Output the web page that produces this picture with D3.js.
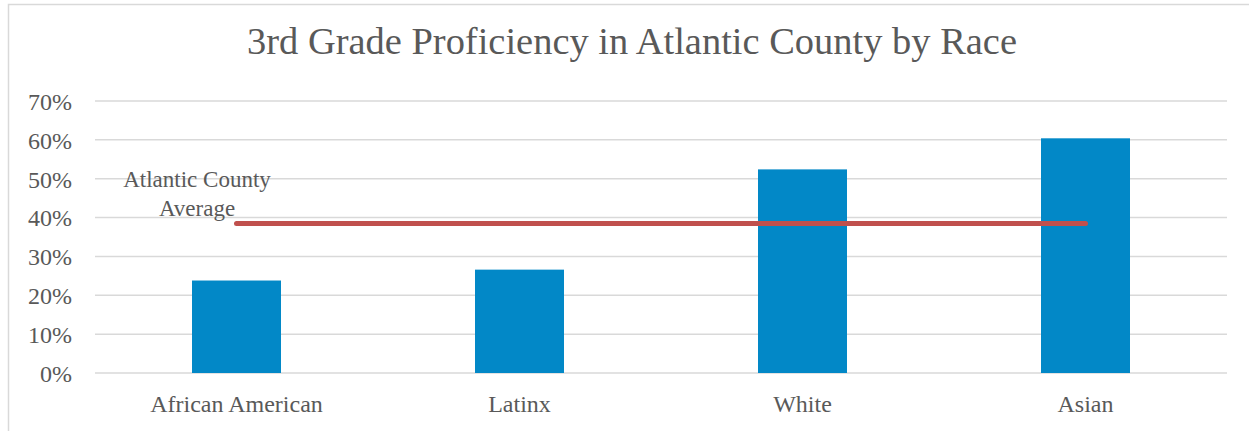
<!DOCTYPE html>
<html>
<head>
<meta charset="utf-8">
<script src="https://cdn.jsdelivr.net/npm/d3@7"></script>
<style>
  body { margin: 0; background: #fff; }
  text { font-family: "Liberation Serif", "DejaVu Serif", serif; fill: #595959; }
</style>
</head>
<body>
<svg id="chart" width="1249" height="431"></svg>
<script>
const categories = ['African American', 'Latinx', 'White', 'Asian'];
const proficiency = [0.238, 0.266, 0.524, 0.604];
const countyAverage = [0.385, 0.385, 0.385, 0.385];
const yTicks = [0, 0.1, 0.2, 0.3, 0.4, 0.5, 0.6, 0.7];
const titleText = '3rd Grade Proficiency in Atlantic County by Race';
const avgLabel = ['Atlantic County', 'Average'];

const svg = d3.select('#chart');
const width = +svg.attr('width');
const height = +svg.attr('height');
const margin = {top: 101, right: 22, bottom: 58, left: 95};
const innerWidth = width - margin.left - margin.right;
const innerHeight = height - margin.top - margin.bottom;

// chart frame (only left and top edges show in the picture)
svg.append('path')
    .attr('d', `M8.5,${height}V4.5H${width}`)
    .attr('fill', 'none')
    .attr('stroke', '#d9d9d9')
    .attr('stroke-width', 1.5);

svg.append('text')
    .attr('x', 632)
    .attr('y', 54)
    .attr('text-anchor', 'middle')
    .attr('font-size', 38)
    .attr('textLength', 770)
    .attr('lengthAdjust', 'spacingAndGlyphs')
    .text(titleText);

const g = svg.append('g')
    .attr('transform', `translate(${margin.left}, ${margin.top})`);

const xScale = d3.scaleBand().domain(categories).range([0, innerWidth]);
const yScale = d3.scaleLinear().domain([0, 0.7]).range([innerHeight, 0]);

// gridlines
g.append('g')
    .selectAll('line')
    .data(yTicks)
    .enter().append('line')
    .attr('x1', 0).attr('x2', innerWidth)
    .attr('y1', d => yScale(d)).attr('y2', d => yScale(d))
    .attr('stroke', '#d9d9d9')
    .attr('stroke-width', 1.5);

const yAxisG = g.append('g')
    .call(d3.axisLeft(yScale).tickValues(yTicks).tickFormat(d3.format('.0%')).tickSize(0).tickPadding(23));
yAxisG.select('.domain').remove();
yAxisG.selectAll('text')
    .attr('font-size', 24)
    .attr('dy', '0.35em')
    .attr('font-family', '"Liberation Serif", serif')
    .attr('fill', '#595959');

const barWidth = 89;
g.selectAll('.bar')
    .data(proficiency)
    .enter().append('rect')
    .attr('class', 'bar')
    .attr('x', (d, i) => xScale(categories[i]) + xScale.bandwidth() / 2 - barWidth / 2)
    .attr('y', d => yScale(d))
    .attr('width', barWidth)
    .attr('height', d => innerHeight - yScale(d))
    .attr('fill', '#0288c7');

const xAxisG = g.append('g')
    .attr('transform', `translate(0, ${innerHeight})`)
    .call(d3.axisBottom(xScale).tickSize(0).tickPadding(22));
xAxisG.select('.domain').remove();
xAxisG.selectAll('text')
    .attr('font-size', 24)
    .attr('font-family', '"Liberation Serif", serif')
    .attr('fill', '#595959');

const lineGenerator = d3.line()
    .x((d, i) => xScale(categories[i]) + xScale.bandwidth() / 2)
    .y(d => yScale(d));

g.append('path')
    .datum(countyAverage)
    .attr('d', lineGenerator)
    .attr('fill', 'none')
    .attr('stroke', '#c0504d')
    .attr('stroke-width', 5)
    .attr('stroke-linecap', 'round');

svg.append('g')
    .selectAll('text')
    .data(avgLabel)
    .enter().append('text')
    .attr('x', 197)
    .attr('y', (d, i) => 187 + i * 29)
    .attr('text-anchor', 'middle')
    .attr('font-size', 23)
    .text(d => d);
</script>
</body>
</html>
